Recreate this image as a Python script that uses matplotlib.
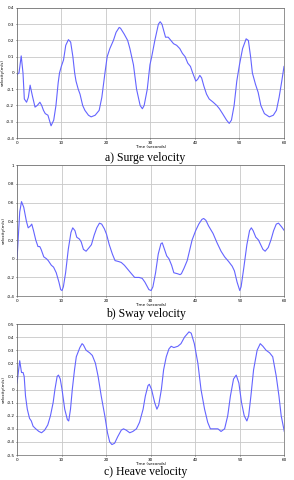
import numpy as np
import matplotlib
matplotlib.use("Agg")
import matplotlib.pyplot as plt

# surge velocity (m/s)
surge_t = [0, 0.5, 1.0, 1.4, 1.7, 2.2, 2.6, 3.0, 3.5, 4.1, 4.6, 5.2, 5.6, 6.0, 6.4, 7.0, 7.7,
           8.3, 8.8, 9.3, 9.6, 10.0, 10.5, 11.0, 11.6, 12.1, 12.6, 13.0, 13.3, 13.8, 14.2, 14.8,
           15.3, 16.1, 16.7, 17.6, 18.5, 19.1, 19.8, 20.3, 20.9, 21.7, 22.3, 23.0, 23.3, 24.1,
           24.9, 25.4, 26.2, 26.9, 27.7, 28.2, 28.6, 29.3, 29.9, 30.3, 31.0, 31.8, 32.2, 32.6,
           33.1, 33.4, 34.0, 34.6, 35.2, 35.9, 36.6, 37.2, 37.8, 38.4, 39.0, 39.5, 40.2, 40.6,
           41.1, 41.5, 42.0, 42.6, 43.2, 44.1, 44.9, 45.5, 46.2, 47.1, 47.7, 48.2, 48.8, 49.4,
           50.0, 50.7, 51.5, 52.0, 52.5, 52.9, 53.6, 54.2, 54.8, 55.6, 56.7, 57.6, 58.3, 58.9,
           59.5, 60.0]
surge_v = [-0.01, 0.0, 0.105, 0.0, -0.16, -0.18, -0.15, -0.075, -0.14, -0.21, -0.2, -0.18,
           -0.2, -0.23, -0.25, -0.26, -0.325, -0.29, -0.2, -0.06, 0.0, 0.04, 0.08, 0.17, 0.205,
           0.19, 0.1, 0.0, -0.05, -0.1, -0.13, -0.2, -0.23, -0.26, -0.27, -0.26, -0.23, -0.15,
           0.0, 0.1, 0.15, 0.2, 0.25, 0.28, 0.275, 0.24, 0.2, 0.15, 0.05, -0.1, -0.2, -0.22,
           -0.2, -0.1, 0.05, 0.1, 0.2, 0.3, 0.315, 0.3, 0.25, 0.22, 0.22, 0.2, 0.18, 0.17, 0.15,
           0.12, 0.1, 0.06, 0.04, 0.0, -0.05, -0.04, -0.015, -0.03, -0.08, -0.13, -0.16, -0.18,
           -0.2, -0.22, -0.25, -0.29, -0.31, -0.29, -0.2, -0.05, 0.05, 0.15, 0.21, 0.2, 0.1, 0.0,
           -0.07, -0.12, -0.2, -0.25, -0.27, -0.26, -0.23, -0.15, -0.05, 0.04]

# sway velocity (m/s)
sway_t = [0, 0.6, 1.0, 1.5, 2.1, 2.5, 3.0, 3.3, 3.7, 4.2, 4.7, 5.1, 5.4, 6.0, 6.6, 7.0, 7.7,
          8.2, 8.8, 9.4, 9.8, 10.1, 10.4, 10.9, 11.5, 12.1, 12.5, 13.0, 13.4, 14.0, 14.4, 14.9,
          15.5, 16.2, 16.7, 17.3, 17.9, 18.5, 19.0, 19.6, 20.1, 20.7, 21.4, 22.0, 22.8, 23.4,
          24.1, 24.8, 25.5, 26.4, 27.4, 28.1, 28.7, 29.6, 30.1, 30.5, 31.1, 31.7, 32.3, 32.6,
          33.1, 33.6, 34.1, 34.7, 35.2, 36.0, 36.6, 36.9, 37.5, 38.2, 38.7, 39.3, 40.1, 40.8,
          41.5, 41.9, 42.4, 43.0, 44.0, 44.9, 45.8, 46.6, 47.5, 48.3, 48.8, 49.4, 50.0, 50.3,
          50.9, 51.6, 52.2, 52.6, 53.0, 53.6, 54.2, 54.7, 55.2, 55.7, 56.4, 57.0, 57.6, 58.2,
          58.7, 59.4, 60.0]
sway_v = [0.0, 0.5, 0.61, 0.55, 0.4, 0.33, 0.35, 0.37, 0.3, 0.2, 0.13, 0.13, 0.1, 0.02, 0.0,
          -0.02, -0.07, -0.09, -0.15, -0.25, -0.33, -0.34, -0.3, -0.15, 0.1, 0.28, 0.33, 0.3,
          0.23, 0.21, 0.18, 0.1, 0.08, 0.12, 0.15, 0.25, 0.33, 0.38, 0.37, 0.32, 0.26, 0.15,
          0.05, -0.02, -0.03, -0.04, -0.07, -0.11, -0.15, -0.2, -0.2, -0.21, -0.25, -0.33,
          -0.34, -0.3, -0.15, 0.05, 0.16, 0.17, 0.1, 0.03, 0.0, -0.07, -0.15, -0.16, -0.17,
          -0.16, -0.1, -0.02, 0.08, 0.2, 0.3, 0.37, 0.42, 0.43, 0.41, 0.35, 0.27, 0.17, 0.08,
          0.02, -0.03, -0.08, -0.13, -0.25, -0.34, -0.3, -0.1, 0.15, 0.3, 0.33, 0.3, 0.23, 0.2,
          0.15, 0.1, 0.08, 0.12, 0.2, 0.3, 0.37, 0.38, 0.34, 0.3]

# heave velocity (m/s)
heave_t = [0, 0.6, 1.0, 1.35, 1.6, 1.9, 2.3, 2.8, 3.2, 3.6, 4.2, 4.9, 5.5, 6.2, 6.9, 7.5, 8.1,
           8.5, 9.0, 9.3, 9.7, 10.1, 10.7, 11.3, 11.6, 12.0, 12.4, 12.9, 13.3, 14.1, 14.6, 14.9,
           15.5, 16.3, 16.9, 17.6, 18.2, 18.9, 19.7, 20.3, 20.8, 21.3, 21.9, 22.6, 23.4, 23.9,
           24.5, 25.3, 26.0, 26.8, 27.5, 28.3, 28.8, 29.4, 29.7, 30.2, 30.9, 31.4, 31.8, 32.4,
           32.9, 33.5, 34.1, 34.6, 35.2, 36.1, 36.8, 37.6, 38.6, 39.1, 39.8, 40.6, 41.3, 42.1,
           42.8, 43.4, 44.3, 45.1, 45.8, 46.6, 47.3, 47.9, 48.6, 49.2, 49.8, 50.4, 51.0, 51.6,
           52.0, 52.5, 53.1, 53.9, 54.6, 55.2, 55.9, 56.7, 57.4, 58.2, 58.8, 59.3, 60.0]
heave_v = [0.05, 0.22, 0.13, 0.13, 0.1, -0.05, -0.15, -0.22, -0.24, -0.28, -0.3, -0.32, -0.33,
           -0.31, -0.27, -0.2, -0.1, 0.0, 0.1, 0.11, 0.08, 0.0, -0.15, -0.23, -0.24, -0.15, 0.0,
           0.15, 0.25, 0.32, 0.35, 0.34, 0.3, 0.28, 0.26, 0.2, 0.1, -0.05, -0.2, -0.33, -0.4,
           -0.42, -0.41, -0.36, -0.31, -0.3, -0.31, -0.33, -0.32, -0.3, -0.25, -0.15, -0.05,
           0.03, 0.04, 0.0, -0.1, -0.15, -0.12, 0.0, 0.15, 0.25, 0.31, 0.33, 0.32, 0.33, 0.35,
           0.4, 0.44, 0.43, 0.35, 0.2, 0.0, -0.15, -0.25, -0.3, -0.3, -0.3, -0.32, -0.3, -0.2,
           -0.05, 0.08, 0.11, 0.05, -0.1, -0.2, -0.24, -0.2, -0.05, 0.15, 0.3, 0.35, 0.33, 0.3,
           0.28, 0.25, 0.1, -0.05, -0.2, -0.32]

captions = ["a) Surge velocity", "b) Sway velocity", "c) Heave velocity"]
y_ticks = [np.arange(-0.4, 0.41, 0.1), np.arange(-0.4, 1.01, 0.2), np.arange(-0.5, 0.51, 0.1)]
y_lims = [(-0.4, 0.4), (-0.4, 1.0), (-0.5, 0.5)]
x_ticks = [0, 10, 20, 30, 40, 50, 60]

fig = plt.figure(figsize=(2.94, 4.8), dpi=100)
boxes = [[0.057, 0.7125, 0.909, 0.271],
         [0.058, 0.383, 0.909, 0.273],
         [0.058, 0.052, 0.909, 0.273]]
cap_y = [0.671, 0.346, 0.017]
series = [(surge_t, surge_v), (sway_t, sway_v), (heave_t, heave_v)]

for i in range(3):
    ax = fig.add_axes(boxes[i])
    t, v = series[i]
    ax.plot(t, v, color="#6464ff", lw=0.8)
    ax.set_xlim(0, 60)
    ax.set_ylim(*y_lims[i])
    ax.set_xticks(x_ticks)
    ax.set_yticks(y_ticks[i])
    ax.set_yticklabels([f"{y:g}" if abs(y) > 1e-9 else "0" for y in np.round(y_ticks[i], 2)])
    ax.tick_params(labelsize=3, length=1, width=0.4, pad=0.8)
    ax.grid(True, color="#c8c8c8", lw=0.6)
    for s in ax.spines.values():
        s.set_linewidth(0.5)
        s.set_color("#666666")
    ax.set_xlabel("Time (seconds)", fontsize=3, labelpad=0.3)
    ax.set_ylabel("velocity(m/s)", fontsize=3)
    ax.yaxis.set_label_coords(-0.043, 0.5)
    fig.text(0.495, cap_y[i], captions[i], ha="center", va="center",
             fontsize=8.5, family="Liberation Serif")

fig.savefig("out.png", dpi=100)
